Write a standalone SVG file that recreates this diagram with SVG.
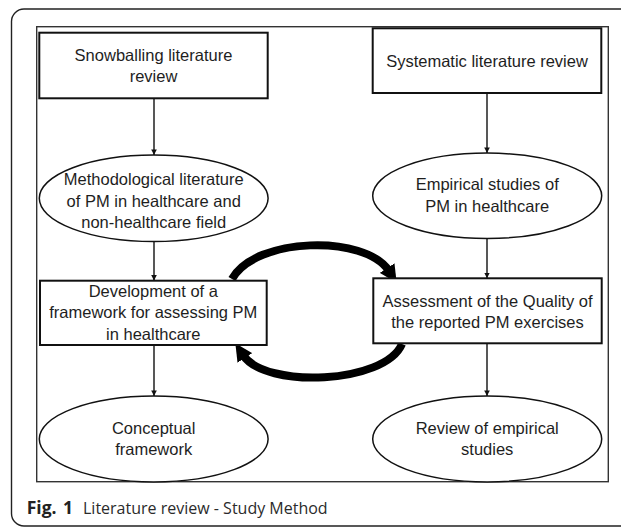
<svg xmlns="http://www.w3.org/2000/svg" width="621" height="528" viewBox="0 0 621 528">
<style>
.box{fill:#fff;stroke:#111;stroke-width:2}
.ell{fill:#fff;stroke:#111;stroke-width:1.5}
.lbl{font-family:"Liberation Sans",Arial,sans-serif;font-size:16.5px;fill:#1e1e1e;text-anchor:middle}
.thin{fill:none;stroke:#111;stroke-width:1.4;marker-end:url(#ah)}
.thick{fill:none;stroke:#000;stroke-width:8;marker-end:url(#bh)}
.cap{font-family:"Open Sans","Liberation Sans",sans-serif;font-size:16px;fill:#2b2b2b}
</style>
<defs>
<marker id="ah" viewBox="0 0 10 10" refX="10" refY="5" markerWidth="4" markerHeight="5" markerUnits="strokeWidth" orient="auto">
<path d="M0,0 L10,5 L0,10 z" fill="#111"/>
</marker>
<marker id="bh" viewBox="0 0 10 10" refX="2" refY="5" markerWidth="2.2" markerHeight="2.2" markerUnits="strokeWidth" orient="auto">
<path d="M0,0 L10,5 L0,10 z" fill="#000"/>
</marker>
</defs>
<rect width="621" height="528" fill="#fff"/>
<path d="M640 9 H24 A12.5 12.5 0 0 0 11.5 21.5 V513.5 A12.5 12.5 0 0 0 24 526 H640" fill="none" stroke="#222" stroke-width="1.4"/>
<rect x="36.7" y="26.7" width="571.6" height="455" fill="#fff" stroke="#333" stroke-width="1.4"/>

<g id="connectors">
<line class="thin" x1="154" y1="98.3" x2="154" y2="155"/>
<line class="thin" x1="154" y1="241.5" x2="154" y2="280.7"/>
<line class="thin" x1="154" y1="345" x2="154" y2="396"/>
<line class="thin" x1="487" y1="93" x2="487" y2="153"/>
<line class="thin" x1="487" y1="238.5" x2="487" y2="278.3"/>
<line class="thin" x1="487" y1="343.3" x2="487" y2="396"/>
<path class="thick" d="M232 279 C255 237 365 234 389 271"/>
<path class="thick" d="M402 344 C385 384 265 389 243 355"/>
</g>

<g id="snowballing">
<rect class="box" x="39.3" y="32.7" width="228.4" height="65.6"/>
<text class="lbl" x="153.5" y="61">Snowballing literature</text>
<text class="lbl" x="153.5" y="82">review</text>
</g>
<g id="systematic">
<rect class="box" x="372.7" y="28.3" width="228.6" height="64.7"/>
<text class="lbl" x="487" y="67">Systematic literature review</text>
</g>
<g id="methodological">
<ellipse class="ell" cx="153.7" cy="198.3" rx="114.4" ry="43.2"/>
<text class="lbl" x="153.7" y="185">Methodological literature</text>
<text class="lbl" x="153.7" y="206.5">of PM in healthcare and</text>
<text class="lbl" x="153.7" y="228">non-healthcare field</text>
</g>
<g id="empirical">
<ellipse class="ell" cx="487.2" cy="195.8" rx="114.5" ry="42.7"/>
<text class="lbl" x="487.2" y="190">Empirical studies of</text>
<text class="lbl" x="487.2" y="211.7">PM in healthcare</text>
</g>
<g id="development">
<rect class="box" x="40" y="280.7" width="226.7" height="64.3"/>
<text class="lbl" x="153.3" y="297">Development of a</text>
<text class="lbl" x="153.3" y="318.3">framework for assessing PM</text>
<text class="lbl" x="153.3" y="340">in healthcare</text>
</g>
<g id="assessment">
<rect class="box" x="373.3" y="278.3" width="228.4" height="65"/>
<text class="lbl" x="487.5" y="306.7">Assessment of the Quality of</text>
<text class="lbl" x="487.5" y="327.5">the reported PM exercises</text>
</g>
<g id="conceptual">
<ellipse class="ell" cx="153.7" cy="439" rx="114.4" ry="43"/>
<text class="lbl" x="153.7" y="434">Conceptual</text>
<text class="lbl" x="153.7" y="454.5">framework</text>
</g>
<g id="review">
<ellipse class="ell" cx="487.2" cy="439" rx="114.5" ry="43"/>
<text class="lbl" x="487.2" y="433.5">Review of empirical</text>
<text class="lbl" x="487.2" y="454.5">studies</text>
</g>

<text class="cap" x="26.7" y="514"><tspan font-weight="bold" font-size="17.5px" fill="#222">Fig.</tspan><tspan x="63" font-weight="bold" font-size="17.5px" fill="#222">1</tspan><tspan x="83">Literature review - Study Method</tspan></text>
</svg>
